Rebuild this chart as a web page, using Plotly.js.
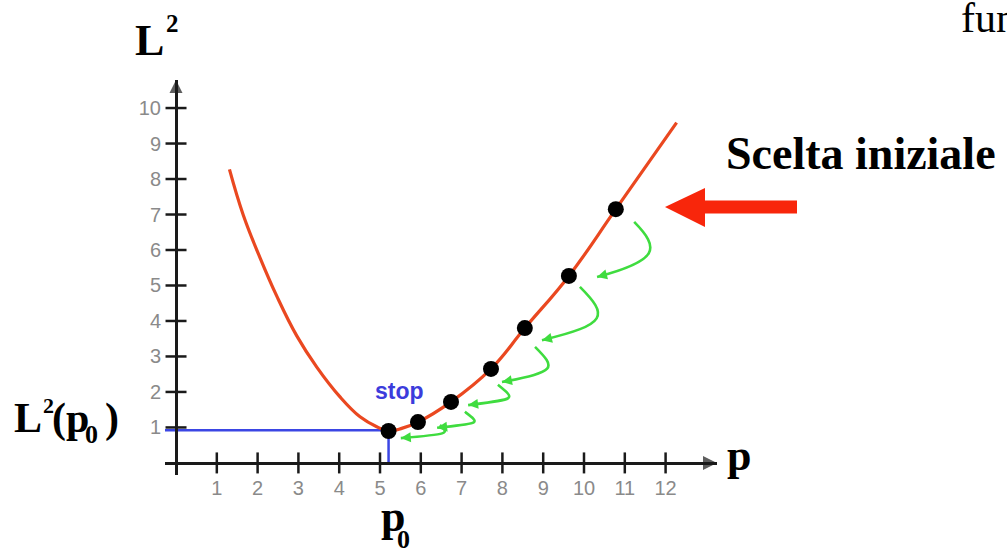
<!DOCTYPE html>
<html>
<head>
<meta charset="utf-8">
<script src="https://cdn.plot.ly/plotly-3.0.1.min.js"></script>
<style>html,body{margin:0;padding:0;background:#fff;overflow:hidden}#chart{width:1007px;height:552px}</style>
</head>
<body>
<div id="chart"></div>
<script>
// ---- data ----
const curveP  = [1.31, 1.65, 2.06, 2.47, 2.96, 3.45, 4.02, 4.51, 4.92, 5.21, 5.55, 5.93, 6.74, 7.72, 8.55, 9.63, 10.78, 12.27];
const curveL2 = [8.27, 6.98, 5.78, 4.70, 3.58, 2.70, 1.86, 1.30, 1.02, 0.90, 0.98, 1.15, 1.72, 2.65, 3.80, 5.27, 7.15, 9.59];
const iterP  = [10.78, 9.63, 8.55, 7.72, 6.74, 5.93, 5.21];
const iterL2 = [7.15, 5.27, 3.80, 2.65, 1.72, 1.15, 0.90];
const p0 = 5.21;
const L2p0 = 0.92;
const xTicks = [1, 2, 3, 4, 5, 6, 7, 8, 9, 10, 11, 12];
const yTicks = [1, 2, 3, 4, 5, 6, 7, 8, 9, 10];
// green "step" hooks: start, bend control, arrow tip
const hookStartP  = [11.23, 9.90, 8.80, 7.89, 7.08, 6.47];
const hookStartL2 = [6.79, 4.96, 3.27, 2.20, 1.44, 1.07];
const hookBendP   = [11.86, 10.60, 9.33, 8.34, 7.47, 6.70];
const hookBendL2  = [6.05, 4.15, 2.66, 1.78, 1.10, 0.82];
const hookTipP    = [10.32, 8.97, 7.99, 7.16, 6.40, 5.51];
const hookTipL2   = [5.24, 3.46, 2.28, 1.63, 0.99, 0.70];

// ---- geometry ----
const XR = [-0.27, 13.26], YR = [-0.34, 10.79];
const M = {l: 165, r: 290, t: 80, b: 77};
const W = 1007 - M.l - M.r, H = 552 - M.t - M.b;
const pxX = px => (px - M.l) / W;
const pxY = py => (M.t + H - py) / H;
const sx = W / (XR[1] - XR[0]), sy = H / (YR[1] - YR[0]);

const AX = '#1a1a1a', RED = '#ea4820', GREEN = '#3fdc3f', BLUE = '#3b46e4';

const traces = [];
// blue guide lines to the minimum
traces.push({x: [XR[0], p0, p0], y: [L2p0, L2p0, 0], mode: 'lines',
  line: {color: BLUE, width: 2.5}, hoverinfo: 'skip', cliponaxis: false});
// curve
traces.push({x: curveP, y: curveL2, mode: 'lines', line: {color: RED, width: 3.2, shape: 'spline', smoothing: 1.2}, hoverinfo: 'skip'});
// iteration points
traces.push({x: iterP, y: iterL2, mode: 'markers', marker: {color: '#000', size: 16}, hoverinfo: 'skip'});
// crossing ticks
traces.push({x: xTicks, y: xTicks.map(() => 0), mode: 'markers', cliponaxis: false, hoverinfo: 'skip',
  marker: {symbol: 'line-ns', size: 15, line: {color: AX, width: 2.5}}});
traces.push({x: yTicks.map(() => 0), y: yTicks, mode: 'markers', cliponaxis: false, hoverinfo: 'skip',
  marker: {symbol: 'line-ew', size: 15, line: {color: AX, width: 2.5}}});
// axis arrowheads
traces.push({x: [XR[1], 0], y: [0, YR[1]], mode: 'markers', cliponaxis: false, hoverinfo: 'skip',
  marker: {symbol: ['arrow-right', 'arrow-up'], size: [14, 13], color: AX, line: {width: 0}}});

// hooks
const shapes = [];
const angles = [];
for (let i = 0; i < hookStartP.length; i++) {
  const c2y = hookTipL2[i] + 0.3 * (hookStartL2[i] - hookTipL2[i]);
  shapes.push({type: 'path', xref: 'x', yref: 'y', layer: 'above',
    path: `M${hookStartP[i]},${hookStartL2[i]} C${hookBendP[i]},${hookBendL2[i]} ${hookBendP[i]},${c2y} ${hookTipP[i]},${hookTipL2[i]}`,
    line: {color: GREEN, width: 2.6}});
  const dxp = (hookBendP[i] - hookTipP[i]) * sx;
  const dyp = (c2y - hookTipL2[i]) * sy;
  angles.push(-Math.atan2(dyp, dxp) * 180 / Math.PI);
}
traces.push({x: hookTipP, y: hookTipL2, mode: 'markers', hoverinfo: 'skip', cliponaxis: false,
  marker: {symbol: 'arrow-left', size: 10, color: GREEN, angle: angles, line: {width: 0}}});

// big red arrow (paper coords from pixels)
const ra = [[665,207],[705,188],[705,200.5],[797,200.5],[797,213.5],[705,213.5],[705,227]];
shapes.push({type: 'path', xref: 'paper', yref: 'paper', fillcolor: '#f8260b', line: {width: 0},
  path: 'M' + ra.map(p => pxX(p[0]).toFixed(5) + ',' + pxY(p[1]).toFixed(5)).join('L') + 'Z'});

const SERIF = 'Liberation Serif, Times New Roman, serif';
function ann(text, px, py, size, o) {
  o = o || {};
  return {text: text, xref: 'paper', yref: 'paper', x: pxX(px), y: pxY(py),
    xanchor: o.xanchor || 'left', yanchor: 'middle', showarrow: false, borderpad: 0,
    font: {family: o.family || SERIF, size: size, color: o.color || '#000', weight: o.weight || 'bold'}};
}
const annotations = [
  ann('L', 134, 41, 44),
  ann('2', 172, 23.5, 25, {xanchor: 'center'}),
  ann('L', 13, 418, 42),
  ann('2', 48, 405, 22, {xanchor: 'center'}),
  ann('(p', 51, 418, 42),
  ann('0', 91, 434, 26, {xanchor: 'center'}),
  ann(')', 104, 418, 42),
  ann('p', 380, 516, 44),
  ann('0', 403, 539, 26, {xanchor: 'center'}),
  ann('p', 726, 455, 44),
  ann('Scelta iniziale', 725, 153, 46),
  ann('funzione', 960, 18, 42, {weight: 'normal'}),
  ann('stop', 399, 391, 23, {xanchor: 'center', family: 'Liberation Sans, Arial, sans-serif', color: '#3c3cdc', weight: 'bold'})
];

const tickFont = {family: 'Liberation Sans, Arial, sans-serif', size: 20, color: '#8a8a8a'};
const layout = {
  width: 1007, height: 552, autosize: false, showlegend: false,
  paper_bgcolor: '#fff', plot_bgcolor: '#fff',
  margin: {l: M.l, r: M.r, t: M.t, b: M.b, pad: 0},
  xaxis: {range: XR, anchor: 'free', position: (0 - YR[0]) / (YR[1] - YR[0]),
    showline: true, linecolor: AX, linewidth: 3, ticks: '', tickvals: xTicks, ticktext: xTicks.map(String),
    tickfont: tickFont, ticklabelstandoff: 6, showgrid: false, zeroline: false, fixedrange: true},
  yaxis: {range: YR, anchor: 'free', position: (0 - XR[0]) / (XR[1] - XR[0]),
    showline: true, linecolor: AX, linewidth: 3, ticks: '', tickvals: yTicks, ticktext: yTicks.map(String),
    tickfont: tickFont, ticklabelstandoff: 10, showgrid: false, zeroline: false, fixedrange: true},
  shapes: shapes,
  annotations: annotations
};
Plotly.newPlot('chart', traces, layout, {staticPlot: true, displayModeBar: false});
</script>
</body>
</html>
